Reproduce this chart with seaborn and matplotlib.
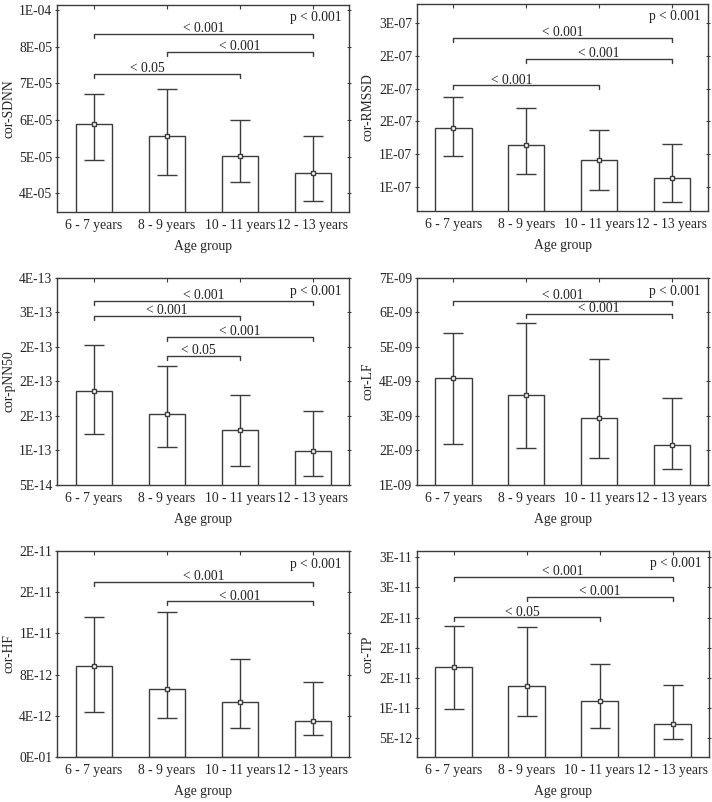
import numpy as np
import pandas as pd
import matplotlib
matplotlib.use("Agg")
import matplotlib.pyplot as plt
import seaborn as sns

groups = ["6 - 7 years", "8 - 9 years", "10 - 11 years", "12 - 13 years"]

# ---- data ----
sdnn_mean = [5.89e-05, 5.56e-05, 5.02e-05, 4.55e-05]
sdnn_hi = [6.70e-05, 6.85e-05, 6.01e-05, 5.56e-05]
sdnn_lo = [4.90e-05, 4.51e-05, 4.30e-05, 3.79e-05]
sdnn_ticks = [4e-05, 5e-05, 6e-05, 7e-05, 8e-05, 9e-05]
sdnn_ticklabels = ["4E-05", "5E-05", "6E-05", "7E-05", "8E-05", "1E-04"]
sdnn_brackets = [(0, 3, 8.35e-05, "< 0.001"), (1, 3, 7.87e-05, "< 0.001"), (0, 2, 7.26e-05, "< 0.05")]

rmssd_mean = [1.543e-07, 1.387e-07, 1.246e-07, 1.081e-07]
rmssd_hi = [1.825e-07, 1.726e-07, 1.525e-07, 1.399e-07]
rmssd_lo = [1.288e-07, 1.120e-07, 0.979e-07, 0.868e-07]
rmssd_ticks = [1.0e-07, 1.3e-07, 1.6e-07, 1.9e-07, 2.2e-07, 2.5e-07]
rmssd_ticklabels = ["1E-07", "1E-07", "2E-07", "2E-07", "2E-07", "3E-07"]
rmssd_brackets = [(0, 3, 2.365e-07, "< 0.001"), (1, 3, 2.173e-07, "< 0.001"), (0, 2, 1.930e-07, "< 0.001")]

pnn50_mean = [1.86e-13, 1.53e-13, 1.30e-13, 0.985e-13]
pnn50_hi = [2.52e-13, 2.22e-13, 1.80e-13, 1.57e-13]
pnn50_lo = [1.245e-13, 1.055e-13, 0.78e-13, 0.635e-13]
pnn50_ticks = [0.5e-13, 1.0e-13, 1.5e-13, 2.0e-13, 2.5e-13, 3.0e-13, 3.5e-13]
pnn50_ticklabels = ["5E-14", "1E-13", "2E-13", "2E-13", "2E-13", "3E-13", "4E-13"]
pnn50_brackets = [(0, 3, 3.165e-13, "< 0.001"), (0, 2, 2.945e-13, "< 0.001"),
                  (1, 3, 2.645e-13, "< 0.001"), (1, 2, 2.365e-13, "< 0.05")]

lf_mean = [4.105e-09, 3.60e-09, 2.95e-09, 2.16e-09]
lf_hi = [5.40e-09, 5.70e-09, 4.66e-09, 3.51e-09]
lf_lo = [2.18e-09, 2.07e-09, 1.79e-09, 1.45e-09]
lf_ticks = [1e-09, 2e-09, 3e-09, 4e-09, 5e-09, 6e-09, 7e-09]
lf_ticklabels = ["1E-09", "2E-09", "3E-09", "4E-09", "5E-09", "6E-09", "7E-09"]
lf_brackets = [(0, 3, 6.33e-09, "< 0.001"), (1, 3, 5.95e-09, "< 0.001")]

hf_mean = [8.87e-12, 6.61e-12, 5.32e-12, 3.52e-12]
hf_hi = [13.58e-12, 14.06e-12, 9.55e-12, 7.29e-12]
hf_lo = [4.35e-12, 3.81e-12, 2.84e-12, 2.19e-12]
hf_ticks = [0.0, 4e-12, 8e-12, 12e-12, 16e-12, 20e-12]
hf_ticklabels = ["0E-01", "4E-12", "8E-12", "1E-11", "2E-11", "2E-11"]
hf_brackets = [(0, 3, 17.0e-12, "< 0.001"), (1, 3, 15.1e-12, "< 0.001")]

tp_mean = [16.8e-12, 13.6e-12, 11.2e-12, 7.38e-12]
tp_hi = [23.6e-12, 23.4e-12, 17.3e-12, 13.8e-12]
tp_lo = [9.8e-12, 8.65e-12, 6.77e-12, 4.83e-12]
tp_ticks = [5e-12, 10e-12, 15e-12, 20e-12, 25e-12, 30e-12, 35e-12]
tp_ticklabels = ["5E-12", "1E-11", "2E-11", "2E-11", "2E-11", "3E-11", "3E-11"]
tp_brackets = [(0, 3, 31.8e-12, "< 0.001"), (1, 3, 28.5e-12, "< 0.001"), (0, 2, 25.05e-12, "< 0.05")]

p_label = "p < 0.001"
xlabel = "Age group"

# ---- layout (pixels in a 712x802 canvas) ----
W, H = 712, 802
panels = [
    dict(name="cor-SDNN", mean=sdnn_mean, hi=sdnn_hi, lo=sdnn_lo, ticks=sdnn_ticks,
         labels=sdnn_ticklabels, brackets=sdnn_brackets, ylim=(3.5e-05, 9.14e-05),
         p_y=8.8e-05, box=(57.3, 5, 349.3, 211.7), dx=[0, 0, -0.27]),
    dict(name="cor-RMSSD", mean=rmssd_mean, hi=rmssd_hi, lo=rmssd_lo, ticks=rmssd_ticks,
         labels=rmssd_ticklabels, brackets=rmssd_brackets, ylim=(0.784e-07, 2.671e-07),
         p_y=2.56e-07, box=(417, 4, 708.3, 211), dx=[0, 0, -0.2]),
    dict(name="cor-pNN50", mean=pnn50_mean, hi=pnn50_hi, lo=pnn50_lo, ticks=pnn50_ticks,
         labels=pnn50_ticklabels, brackets=pnn50_brackets, ylim=(0.5e-13, 3.5e-13),
         p_y=3.305e-13, box=(57.3, 277.7, 349.3, 485), dx=[0, 0, 0, -0.07]),
    dict(name="cor-LF", mean=lf_mean, hi=lf_hi, lo=lf_lo, ticks=lf_ticks,
         labels=lf_ticklabels, brackets=lf_brackets, ylim=(1e-09, 7e-09),
         p_y=6.61e-09, box=(417, 277.7, 708.3, 485), dx=[0, 0]),
    dict(name="cor-HF", mean=hf_mean, hi=hf_hi, lo=hf_lo, ticks=hf_ticks,
         labels=hf_ticklabels, brackets=hf_brackets, ylim=(0.0, 20e-12),
         p_y=18.7e-12, box=(57.3, 550.7, 349.3, 757.3), dx=[0, 0]),
    dict(name="cor-TP", mean=tp_mean, hi=tp_hi, lo=tp_lo, ticks=tp_ticks,
         labels=tp_ticklabels, brackets=tp_brackets, ylim=(1.85e-12, 36.1e-12),
         p_y=33.95e-12, box=(417, 550.7, 709.3, 757.3), dx=[0, 0, -0.06]),
]

sns.set_style("white")
plt.rcParams["font.family"] = ["Liberation Serif", "DejaVu Serif"]
FS = 9.8
INK = "#3c3c3c"

fig = plt.figure(figsize=(W / 100, H / 100), dpi=100)

for p in panels:
    l, t, r, b = p["box"]
    ax = fig.add_axes([l / W, 1 - b / H, (r - l) / W, (b - t) / H])
    df = pd.DataFrame({"group": groups, "value": p["mean"]})
    sns.barplot(data=df, x="group", y="value", order=groups, ax=ax, width=0.5,
                color="white", edgecolor=INK, linewidth=1.0, errorbar=None, saturation=1)
    xs = np.arange(len(groups))
    means = np.array(p["mean"])
    yerr = np.vstack([means - np.array(p["lo"]), np.array(p["hi"]) - means])
    ax.errorbar(xs, means, yerr=yerr, fmt="s", ms=3.2, mfc="white", mec=INK, mew=1.0,
                ecolor=INK, elinewidth=1.0, capsize=7.5, capthick=1.0, zorder=5)
    ax.set_xlim(-0.5, 3.5)
    ax.set_ylim(*p["ylim"])
    ax.set_yticks(p["ticks"])
    ax.set_yticklabels(p["labels"], fontsize=FS)
    ax.set_xticks(xs)
    ax.set_xticklabels(groups, fontsize=FS)
    ax.tick_params(axis="y", which="both", left=True, right=True, direction="out",
                   length=3, width=0.8, color=INK, pad=2)
    ax.tick_params(axis="y", right=True, direction="inout", length=3)
    ax.tick_params(axis="x", bottom=True, top=True, direction="in", length=3, width=0.8,
                   color=INK, pad=5)
    for s in ax.spines.values():
        s.set_visible(True)
        s.set_color(INK)
        s.set_linewidth(1.0)
    ax.set_xlabel(xlabel, fontsize=FS)
    ax.xaxis.set_label_coords(0.5, -28 / (b - t))
    ax.set_ylabel(p["name"], fontsize=FS)
    ax.yaxis.set_label_coords(-42 / (r - l), 0.5)

    yr = p["ylim"][1] - p["ylim"][0]
    d = yr * 4.0 / (b - t)
    for (i, j, y, lab), off in zip(p["brackets"], p["dx"]):
        ax.plot([i, i, j, j], [y - d, y, y, y - d], color=INK, lw=1.0, zorder=6)
        ax.annotate(lab, xy=((i + j) / 2 + off, y), xytext=(0, 1.2),
                    textcoords="offset points", ha="center", va="baseline", fontsize=FS,
                    color="#222222")
    ax.text(0.975, p["p_y"], p_label, transform=ax.get_yaxis_transform(), ha="right",
            va="center", fontsize=FS, color="#222222")

fig.savefig("out.png", dpi=100, facecolor="white")
